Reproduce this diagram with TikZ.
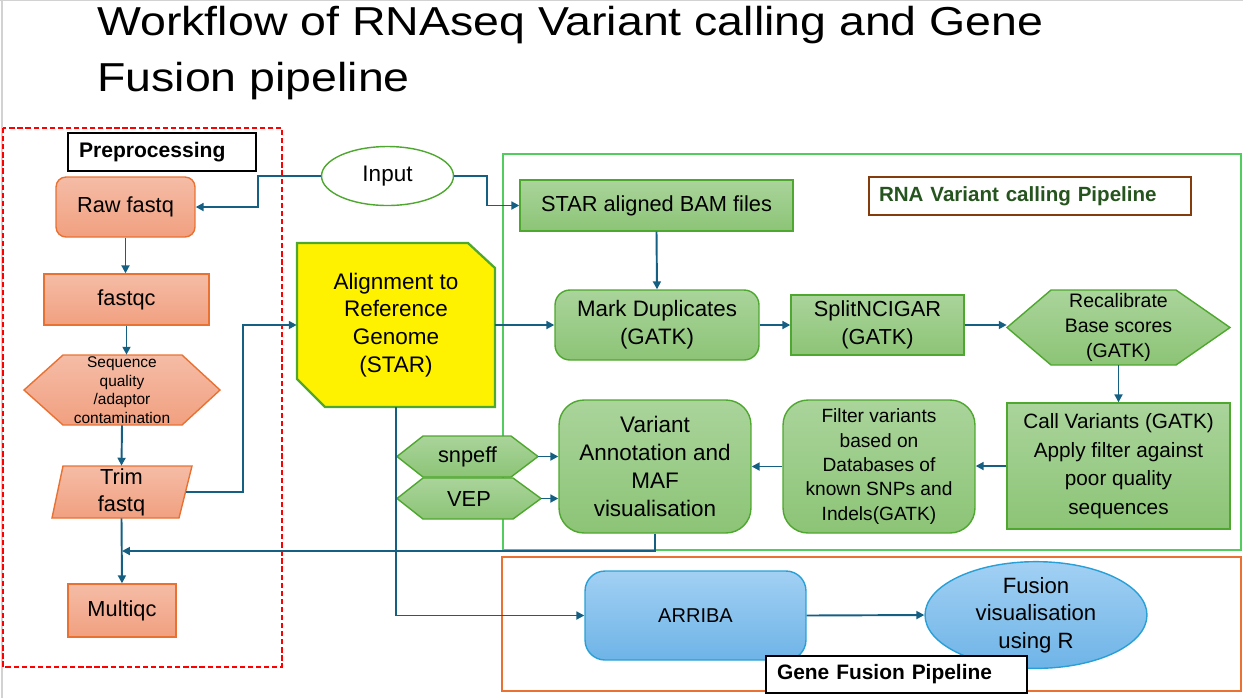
\documentclass[tikz,border=0pt]{standalone}
\usepackage{fontspec}
\setmainfont{Liberation Sans}
\newfontfamily\titlefont[FakeStretch=1.15]{Liberation Sans}
\usetikzlibrary{arrows.meta,shapes.geometric}

\definecolor{arrowblue}{RGB}{21,96,130}
\definecolor{ortop}{RGB}{245,188,166}
\definecolor{orbot}{RGB}{241,160,128}
\definecolor{orline}{RGB}{233,113,50}
\definecolor{grtop}{RGB}{170,212,155}
\definecolor{grbot}{RGB}{140,196,118}
\definecolor{grline}{RGB}{78,167,46}
\definecolor{grframe}{RGB}{82,204,92}
\definecolor{bltop}{RGB}{162,208,243}
\definecolor{blbot}{RGB}{110,180,231}
\definecolor{blline}{RGB}{40,160,215}
\definecolor{rnatext}{RGB}{38,84,30}
\definecolor{tagline}{RGB}{132,60,12}

\newcommand\setfs[2]{\fontsize{#1}{#2}\selectfont}

\tikzset{
  flow/.style={draw=arrowblue, line width=1.1pt, -{Triangle[length=4.5pt,width=4.5pt]}},
  txt/.style={inner sep=0pt, align=center, font=\setfs{12.4}{15.8}},
  orbox/.style={txt, draw=orline, line width=0.8pt, top color=ortop, bottom color=orbot},
  grbox/.style={txt, draw=grline, line width=0.8pt, top color=grtop, bottom color=grbot},
  blbox/.style={txt, draw=blline, line width=0.8pt, top color=bltop, bottom color=blbot},
  orfill/.style={draw=orline, line width=0.8pt, top color=ortop, bottom color=orbot},
  grfill/.style={draw=grline, line width=0.8pt, top color=grtop, bottom color=grbot},
  tagbox/.style={draw, fill=white, line width=0.8pt, inner ysep=0pt, align=left, font=\bfseries\setfs{12}{14}}
}

\begin{document}
\begin{tikzpicture}[x=0.02cm,y=-0.02cm]
  \useasboundingbox (0,0) rectangle (1243,698);
  \draw[gray!35, line width=0.8pt] (2,0) -- (2,698);
  \draw[gray!35, line width=0.8pt] (0,0.5) -- (1243,0.5);

  % title
  \node[anchor=north west, inner sep=0pt, align=left, font=\titlefont\setfs{23}{31.9}] (title) at (97,6)
    {Workflow of RNAseq Variant calling and Gene\\Fusion pipeline};

  % group frames
  \draw[red, line width=1.1pt, dash pattern=on 3pt off 1.6pt] (3,128) rectangle (282,667);
  \draw[grframe, line width=0.9pt] (503,154) rectangle (1241,550);
  \draw[orline, line width=1.1pt] (502,557) rectangle (1241,691);

  % preprocessing
  \node[tagbox, draw=black, minimum width=3.76cm, minimum height=0.76cm, inner xsep=0.22cm, text width=3.32cm] (prelab) at (162,152) {Preprocessing};
  \node[orbox, rounded corners=0.2cm, minimum width=2.78cm, minimum height=1.2cm] (raw) at (125.5,207) {Raw fastq};
  \node[orbox, minimum width=3.3cm, minimum height=1.02cm] (fastqc) at (126.5,299.5) {fastqc};
  \draw[orfill] (24,390) -- (63,355) -- (182,355) -- (220,390) -- (182,425) -- (63,425) -- cycle;
  \node[txt, minimum width=3.92cm, minimum height=1.4cm, font=\setfs{8.8}{10.6}] (seqq) at (122,390) {Sequence\\quality\\/adaptor\\contamination};
  \draw[orfill] (63,466) -- (192,466) -- (179,518) -- (52,518) -- cycle;
  \node[txt, minimum width=2.56cm, minimum height=1.04cm, font=\setfs{12.4}{15.4}] (trim) at (121.5,492) {Trim\\fastq};
  \node[orbox, minimum width=2.16cm, minimum height=1.06cm] (multiqc) at (122,610.5) {Multiqc};

  % input and alignment
  \node[txt, ellipse, draw=grline, fill=white, line width=0.8pt, minimum width=2.64cm, minimum height=1.18cm, font=\setfs{12.8}{15.8}] (input) at (387.5,176) {Input};
  \draw[draw=grline, fill=yellow, line width=1.3pt] (297,243) -- (468,243) -- (495,268) -- (495,407) -- (325,407) -- (297,379) -- cycle;
  \node[txt, minimum width=3.96cm, minimum height=3.28cm, font=\setfs{12.8}{15.8}] (align) at (396,325) {Alignment to\\Reference\\Genome\\(STAR)};

  % variant calling
  \node[tagbox, draw=tagline, text=rnatext, minimum width=6.44cm, minimum height=0.76cm, inner xsep=0.2cm, text width=6.04cm, font=\bfseries\setfs{11.7}{14}] (rnalab) at (1030,196) {RNA Variant calling Pipeline};
  \node[grbox, minimum width=5.46cm, minimum height=1.02cm] (staraln) at (656.5,205.5) {STAR aligned BAM files};
  \node[grbox, rounded corners=0.3cm, minimum width=4.08cm, minimum height=1.4cm, font=\setfs{12.7}{15.9}] (mark) at (657,325) {Mark Duplicates\\(GATK)};
  \node[grbox, minimum width=3.46cm, minimum height=1.2cm] (split) at (877.5,325) {SplitNCIGAR\\(GATK)};
  \draw[grfill] (1007,327.5) -- (1051,290) -- (1176,290) -- (1230,327.5) -- (1176,365) -- (1051,365) -- cycle;
  \node[txt, minimum width=4.46cm, minimum height=1.5cm, font=\setfs{11.1}{14.2}] (recal) at (1118.5,327.5) {Recalibrate\\Base scores\\(GATK)};
  \node[grbox, minimum width=4.46cm, minimum height=2.52cm, font=\setfs{11.8}{16.2}] (call) at (1118.5,466) {Call Variants (GATK)\\Apply filter against\\poor quality\\sequences};
  \node[grbox, rounded corners=0.5cm, minimum width=3.84cm, minimum height=2.66cm, font=\setfs{10.9}{13.9}] (filter) at (879,466.5) {Filter variants\\based on\\Databases of\\known SNPs and\\Indels(GATK)};
  \node[grbox, rounded corners=0.5cm, minimum width=3.84cm, minimum height=2.66cm, font=\setfs{12.8}{15.9}] (annot) at (655,466.5) {Variant\\Annotation and\\MAF\\visualisation};
  \draw[grfill] (397,456.5) -- (423,436) -- (511,436) -- (538,456.5) -- (511,477) -- (423,477) -- cycle;
  \node[txt, minimum width=2.82cm, minimum height=0.82cm] (snpeff) at (467.5,456.5) {snpeff};
  \draw[grfill] (397,498.5) -- (423,478) -- (513,478) -- (541,498.5) -- (513,519) -- (423,519) -- cycle;
  \node[txt, minimum width=2.88cm, minimum height=0.82cm] (vep) at (469,498.5) {VEP};

  % gene fusion
  \node[blbox, rounded corners=0.4cm, minimum width=4.42cm, minimum height=1.78cm, font=\setfs{11.4}{14}] (arriba) at (695.5,615.5) {ARRIBA};
  \node[blbox, ellipse, minimum width=4.44cm, minimum height=1.56cm, font=\setfs{12.6}{15.6}] (fusion) at (1036,615) {Fusion\\visualisation\\using R};
  \node[tagbox, draw=black, minimum width=5.22cm, minimum height=0.74cm, inner xsep=0.22cm, text width=4.78cm, font=\bfseries\setfs{11.9}{14}] (fuslab) at (896.5,674.5) {Gene Fusion Pipeline};

  % connectors
  \coordinate (join) at (122,551);
  \draw[flow] (input.west) -- ++(-63,0) |- (raw.east);
  \draw[flow] (input.east) -- ++(33,0) |- (staraln.west);
  \draw[flow] (raw.south) -- (raw.south |- fastqc.north);
  \draw[flow] (fastqc.south) -- (fastqc.south |- seqq.north);
  \draw[flow] (seqq.south) -- (trim.north);
  \draw[flow] (trim.south) -- (multiqc.north);
  \draw[flow] (trim.east) -- ++(57,0) |- (align.west);
  \draw[flow] (align.east) -- (mark.west);
  \draw[flow] (staraln.south) -- (mark.north);
  \draw[flow] (mark.east) -- (split.west);
  \draw[flow] (split.east) -- (split.east -| recal.west);
  \draw[flow] (recal.south) -- (call.north);
  \draw[flow] (call.west) -- (call.west -| filter.east);
  \draw[flow] (filter.west) -- (annot.east);
  \draw[flow] (snpeff.east) -- (snpeff.east -| annot.west);
  \draw[flow] (vep.east) -- (vep.east -| annot.west);
  \draw[flow] (annot.south) |- (join);
  \draw[flow] (align.south) |- (arriba.west);
  \draw[flow] (arriba.east) -- (fusion.west);
\end{tikzpicture}
\end{document}
